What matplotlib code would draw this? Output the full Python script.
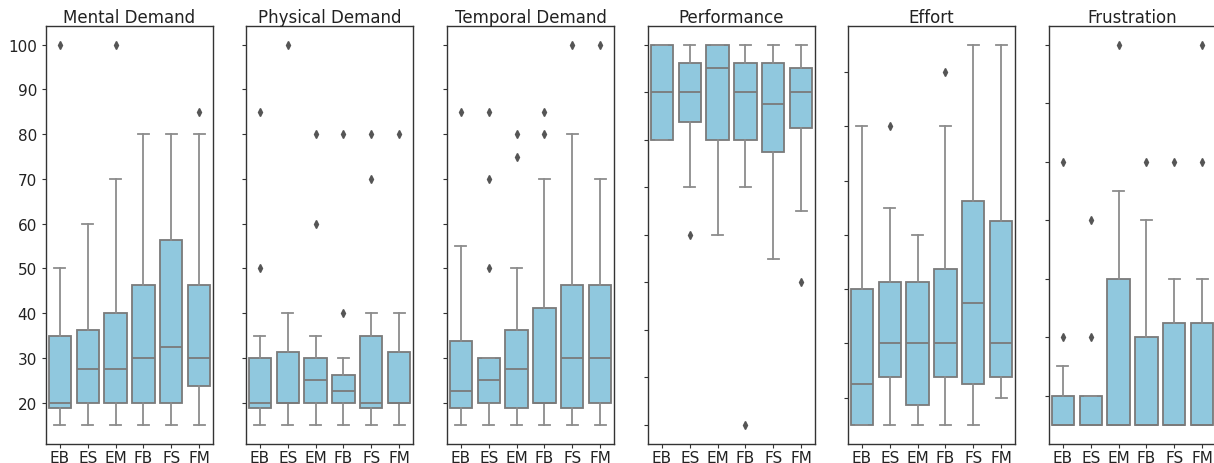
import matplotlib
matplotlib.use("Agg")
import matplotlib.pyplot as plt
from matplotlib.ticker import MultipleLocator

conditions = ["EB", "ES", "EM", "FB", "FS", "FM"]
titles = ["Mental Demand", "Physical Demand", "Temporal Demand",
          "Performance", "Effort", "Frustration"]

# Mental Demand
mental_q1 = [18.75, 20, 20, 20, 20, 23.75]
mental_med = [20, 27.5, 27.5, 30, 32.5, 30]
mental_q3 = [35, 36.25, 40, 46.25, 56.25, 46.25]
mental_lo = [15, 15, 15, 15, 15, 15]
mental_hi = [50, 60, 70, 80, 80, 80]
mental_fl = [[100], [], [100], [], [], [85]]

# Physical Demand
physical_q1 = [18.75, 20, 20, 20, 18.75, 20]
physical_med = [20, 20, 25, 22.5, 20, 20]
physical_q3 = [30, 31.25, 30, 26.25, 35, 31.25]
physical_lo = [15, 15, 15, 15, 15, 15]
physical_hi = [35, 40, 35, 30, 40, 40]
physical_fl = [[85, 50], [100], [80, 60], [80, 40], [80, 70], [80]]

# Temporal Demand
temporal_q1 = [18.75, 20, 18.75, 20, 18.75, 20]
temporal_med = [22.5, 25, 27.5, 20, 30, 30]
temporal_q3 = [33.75, 30, 36.25, 41.25, 46.25, 46.25]
temporal_lo = [15, 15, 15, 15, 15, 15]
temporal_hi = [55, 30, 50, 70, 80, 70]
temporal_fl = [[85], [85, 70, 50], [80, 75], [85, 80], [100], [100]]

# Performance
perf_q1 = [80, 83.75, 80, 80, 77.5, 82.5]
perf_med = [90, 90, 95, 90, 87.5, 90]
perf_q3 = [100, 96.25, 100, 96.25, 96.25, 95]
perf_lo = [80, 70, 60, 70, 55, 65]
perf_hi = [100, 100, 100, 100, 100, 100]
perf_fl = [[], [60], [], [20], [], [50]]

# Effort
effort_q1 = [15, 23.75, 18.75, 23.75, 22.5, 23.75]
effort_med = [22.5, 30, 30, 30, 37.5, 30]
effort_q3 = [40, 41.25, 41.25, 43.75, 56.25, 52.5]
effort_lo = [15, 15, 15, 15, 15, 20]
effort_hi = [70, 55, 50, 70, 85, 85]
effort_fl = [[], [70], [], [80], [], []]

# Frustration
frus_q1 = [15, 15, 15, 15, 15, 15]
frus_med = [15, 15, 15, 15, 15, 15]
frus_q3 = [20, 20, 40, 30, 32.5, 32.5]
frus_lo = [15, 15, 15, 15, 15, 15]
frus_hi = [25, 20, 55, 50, 40, 40]
frus_fl = [[30, 60], [30, 50], [80], [60], [60], [60, 80]]

panels = [
    (mental_q1, mental_med, mental_q3, mental_lo, mental_hi, mental_fl),
    (physical_q1, physical_med, physical_q3, physical_lo, physical_hi, physical_fl),
    (temporal_q1, temporal_med, temporal_q3, temporal_lo, temporal_hi, temporal_fl),
    (perf_q1, perf_med, perf_q3, perf_lo, perf_hi, perf_fl),
    (effort_q1, effort_med, effort_q3, effort_lo, effort_hi, effort_fl),
    (frus_q1, frus_med, frus_q3, frus_lo, frus_hi, frus_fl),
]

box_color = "#90c8de"
edge_color = "#7a7a7a"
whisker_color = "#8c8c8c"

W, H = 1214, 464
fig = plt.figure(figsize=(W / 100, H / 100), dpi=100)

lefts = [46, 246, 447, 648, 848, 1049]
ax_w = 167
ax_top, ax_bot = 26.7, 445

for i, (title, data) in enumerate(zip(titles, panels)):
    q1, med, q3, lo, hi, fl = data
    ax = fig.add_axes([lefts[i] / W, 1 - ax_bot / H, ax_w / W, (ax_bot - ax_top) / H])
    stats = []
    for j, c in enumerate(conditions):
        stats.append(dict(label=c, q1=q1[j], med=med[j], q3=q3[j],
                          whislo=lo[j], whishi=hi[j], fliers=fl[j]))
    ax.bxp(stats, positions=range(len(conditions)), widths=0.8,
           patch_artist=True, showfliers=True,
           boxprops=dict(facecolor=box_color, edgecolor=edge_color, linewidth=1.3),
           medianprops=dict(color=edge_color, linewidth=1.3),
           whiskerprops=dict(color=whisker_color, linewidth=1.3),
           capprops=dict(color=whisker_color, linewidth=1.3),
           flierprops=dict(marker="d", markersize=4, markerfacecolor="#555555",
                           markeredgecolor="#555555", linestyle="none"))
    ax.set_xlim(-0.5, 5.5)
    ax.margins(y=0.05)
    ax.yaxis.set_major_locator(MultipleLocator(10))
    ax.set_title(title, fontsize=12, color="#222222", pad=3)
    ax.tick_params(axis="both", labelsize=11, colors="#333333", labelcolor="#222222",
                   length=3)
    ax.tick_params(axis="x", pad=1)
    for s in ax.spines.values():
        s.set_color("#333333")
        s.set_linewidth(1.0)
    if i > 0:
        ax.set_yticklabels([])

fig.savefig("out.png", dpi=100)
